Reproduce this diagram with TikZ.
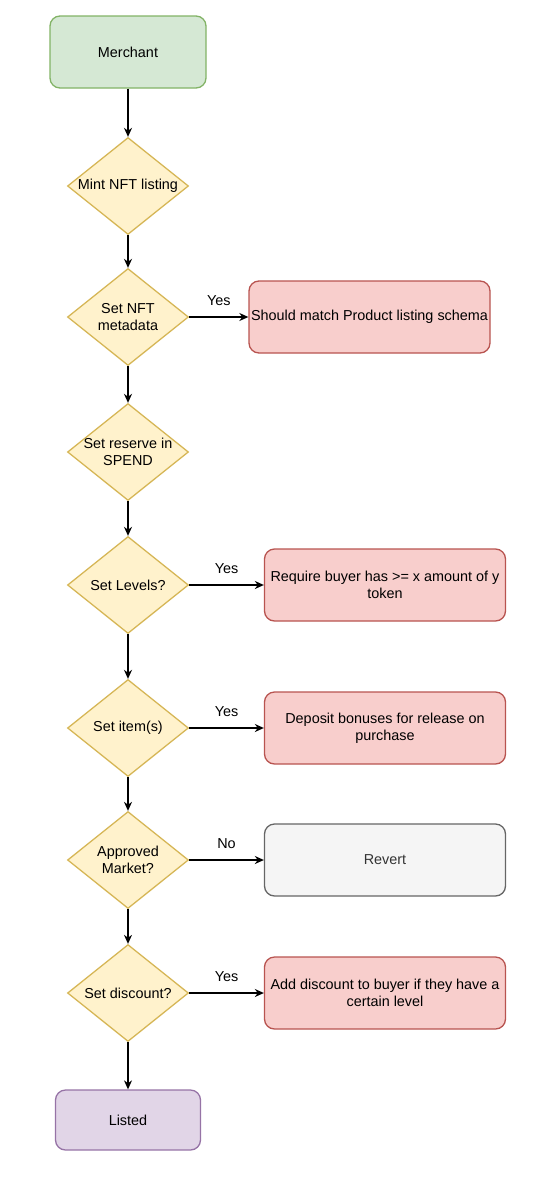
\documentclass[tikz,border=0pt]{standalone}
\usepackage{fontspec}
\setmainfont{Liberation Sans}
\usetikzlibrary{shapes.geometric,arrows.meta}

\definecolor{startfill}{HTML}{D5E8D4}
\definecolor{startline}{HTML}{82B366}
\definecolor{askfill}{HTML}{FFF2CC}
\definecolor{askline}{HTML}{D6B656}
\definecolor{rulefill}{HTML}{F8CECC}
\definecolor{ruleline}{HTML}{B85450}
\definecolor{failfill}{HTML}{F5F5F5}
\definecolor{failline}{HTML}{666666}
\definecolor{failtext}{HTML}{333333}
\definecolor{endfill}{HTML}{E1D5E7}
\definecolor{endline}{HTML}{9673A6}

\begin{document}
\begin{tikzpicture}[x=1pt,y=-1pt,
  font=\fontsize{14.4}{17}\selectfont,
  merchantbox/.style={draw=startline,fill=startfill,line width=1.3pt,rounded corners=10pt,minimum width=156pt,minimum height=72pt},
  askbox/.style={diamond,draw=askline,fill=askfill,line width=1.3pt,inner sep=-5pt,minimum width=121pt,minimum height=97pt,align=center},
  rulebox/.style={draw=ruleline,fill=rulefill,line width=1.3pt,rounded corners=10pt,minimum width=241pt,minimum height=72pt,align=center,inner sep=1pt},
  failbox/.style={draw=failline,fill=failfill,text=failtext,line width=1.3pt,rounded corners=10pt,minimum width=241pt,minimum height=72pt},
  listedbox/.style={draw=endline,fill=endfill,line width=1.3pt,rounded corners=10pt,minimum width=145pt,minimum height=60pt},
  flow/.style={-{Stealth[length=9pt,width=8pt]},line width=1.3pt},
  branch/.style={above=7pt,midway}]
\useasboundingbox (0,0) rectangle (534,1178);

% main line
\node[merchantbox] (merchant) at (128,52) {Merchant};
\node[askbox] (mint) at (128,186) {Mint NFT listing};
\node[askbox] (meta) at (128,317) {Set NFT\\metadata};
\node[askbox] (reserve) at (128,452) {Set reserve in\\SPEND};
\node[askbox] (levels) at (128,585) {Set Levels?};
\node[askbox] (items) at (128,728) {Set item(s)};
\node[askbox] (market) at (128,860) {Approved\\Market?};
\node[askbox] (discount) at (128,993) {Set discount?};
\node[listedbox] (listed) at (128,1120) {Listed};

% side boxes
\node[rulebox] (schema) at (369.5,317) {Should match Product listing schema};
\node[rulebox] (holds) at (385,585) {Require buyer has >= x amount of y\\token};
\node[rulebox] (bonus) at (385,728) {Deposit bonuses for release on\\purchase};
\node[failbox] (revert) at (385,860) {Revert};
\node[rulebox] (perk) at (385,993) {Add discount to buyer if they have a\\certain level};

\draw[flow] (merchant) -- (mint.north);
\draw[flow] (mint.south) -- (meta.north);
\draw[flow] (meta.south) -- (reserve.north);
\draw[flow] (reserve.south) -- (levels.north);
\draw[flow] (levels.south) -- (items.north);
\draw[flow] (items.south) -- (market.north);
\draw[flow] (market.south) -- (discount.north);
\draw[flow] (discount.south) -- (listed.north);

\draw[flow] (meta.east) -- node[branch] {Yes} (schema.west);
\draw[flow] (levels.east) -- node[branch] {Yes} (holds.west);
\draw[flow] (items.east) -- node[branch] {Yes} (bonus.west);
\draw[flow] (market.east) -- node[branch] {No} (revert.west);
\draw[flow] (discount.east) -- node[branch] {Yes} (perk.west);
\end{tikzpicture}
\end{document}
